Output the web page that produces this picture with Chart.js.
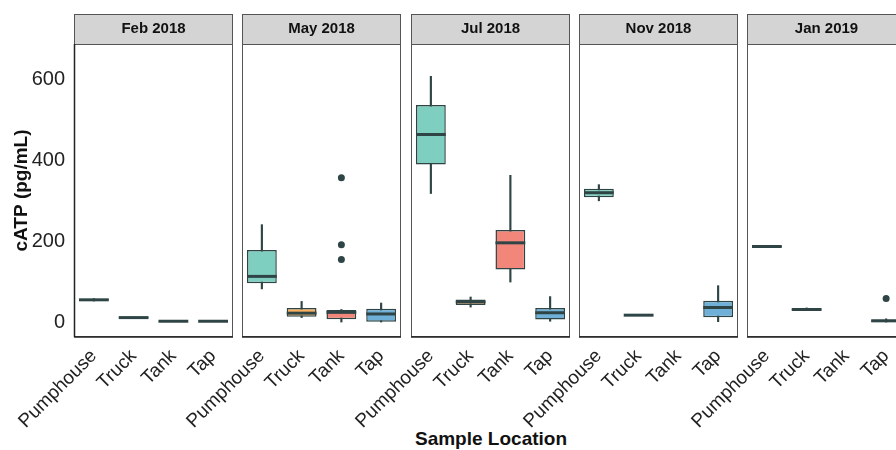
<!DOCTYPE html>
<html lang="en">
<head>
  <meta charset="UTF-8" />
  <title>cATP by Sample Location</title>
  <script src="https://cdn.jsdelivr.net/npm/chart.js"></script>
  <style>
    html, body { margin: 0; padding: 0; background: #fff; overflow: hidden; }
    #wrap { position: relative; width: 896px; height: 450px; overflow: hidden; font-family: "Liberation Sans", Arial, sans-serif; }
    #wrap canvas { position: absolute; top: 0; }
    #xtitle { position: absolute; top: 429px; left: 391px; width: 200px; text-align: center; font-size: 19px; line-height: 19px; font-weight: bold; color: #111; }
  </style>
</head>
<body>
  <div id="wrap">
    <div id="xtitle">Sample Location</div>
  </div>

  <script>
    const panels = ['Feb 2018', 'May 2018', 'Jul 2018', 'Nov 2018', 'Jan 2019'];
    const locations = ['Pumphouse', 'Truck', 'Tank', 'Tap'];
    const fills = ['#7fcfc0', '#fbb060', '#f3867b', '#6fb0d8'];

    // per panel, per location (Pumphouse, Truck, Tank, Tap)
    const whiskerLow = [[52, 10, 1, 1], [82, 11, 0, 0], [318, 37, 99, 2], [300, 16, null, 1], [186, 29, null, 0]];
    const q1 =         [[54, 10, 1, 1], [96, 13, 7, 1], [390, 42, 130, 6], [309, 16, null, 12], [186, 29, null, 0]];
    const median =     [[55, 11, 2, 2], [113, 22, 24, 20], [464, 50, 196, 23], [320, 17, null, 36], [187, 31, null, 3]];
    const q3 =         [[57, 12, 3, 3], [178, 35, 30, 33], [537, 56, 228, 35], [330, 18, null, 53], [188, 33, null, 6]];
    const whiskerHigh = [[58, 12, 3, 3], [241, 51, 31, 47], [608, 62, 363, 63], [340, 18, null, 90], [188, 35, null, 8]];
    const outliers = [[], [['Tank', 357], ['Tank', 191], ['Tank', 155]], [], [], [['Tap', 58]]];

    const yTicks = [0, 200, 400, 600];
    const yMin = -37, yMax = 688;

    const ink = '#2f4545';
    const panelLeft = [74, 242, 411, 579, 747];
    const panelWidth = 159;

    const panelFrame = {
      id: 'panelFrame',
      beforeDraw(chart) {
        const { ctx, chartArea: a } = chart;
        ctx.save();
        ctx.fillStyle = '#d4d4d4';
        ctx.fillRect(a.left, 14, a.right - a.left, a.top - 14);
        ctx.strokeStyle = '#555';
        ctx.lineWidth = 1;
        ctx.strokeRect(a.left + 0.5, 14.5, a.right - a.left - 1, a.top - 14);
        ctx.restore();
      },
      afterDraw(chart) {
        const { ctx, chartArea: a } = chart;
        ctx.save();
        ctx.strokeStyle = '#555';
        ctx.lineWidth = 1;
        ctx.strokeRect(a.left + 0.5, a.top + 0.5, a.right - a.left - 1, a.bottom - a.top - 1);
        ctx.strokeStyle = '#222';
        ctx.lineWidth = 1.5;
        ctx.beginPath();
        ctx.moveTo(a.left, a.bottom);
        ctx.lineTo(a.right, a.bottom);
        if (chart.$first) {
          ctx.moveTo(a.left + 0.5, a.top);
          ctx.lineTo(a.left + 0.5, a.bottom);
        }
        ctx.stroke();
        ctx.restore();
      }
    };

    function makePanel(p) {
      const first = p === 0;
      // the y axis doubles as a left spacer so rotated labels fit inside the canvas
      const axisWidth = first ? 74 : 90;
      const canvas = document.createElement('canvas');
      const w = axisWidth + panelWidth + 20;
      canvas.width = w;
      canvas.height = 450;
      canvas.style.width = w + 'px';
      canvas.style.height = '450px';
      canvas.style.left = (panelLeft[p] - axisWidth) + 'px';
      document.getElementById('wrap').appendChild(canvas);

      const chart = new Chart(canvas.getContext('2d'), {
        type: 'bar',
        data: {
          labels: locations,
          datasets: [
            {
              label: 'whisker',
              data: locations.map((_, i) => whiskerLow[p][i] == null ? null : [whiskerLow[p][i], whiskerHigh[p][i]]),
              backgroundColor: ink,
              barThickness: 1.5,
              grouped: false,
              order: 4
            },
            {
              label: 'box',
              data: locations.map((_, i) => q1[p][i] == null ? null : [q1[p][i], q3[p][i]]),
              backgroundColor: fills,
              borderColor: ink,
              borderWidth: 1.5,
              borderSkipped: false,
              barPercentage: 0.75,
              categoryPercentage: 1,
              grouped: false,
              order: 3
            },
            {
              type: 'line',
              label: 'median',
              data: median[p],
              showLine: false,
              pointStyle: 'line',
              pointRadius: 14.9,
              pointBorderWidth: 3,
              pointBorderColor: ink,
              order: 2
            },
            {
              type: 'line',
              label: 'outlier',
              data: outliers[p].map(o => ({ x: o[0], y: o[1] })),
              showLine: false,
              pointRadius: 3.5,
              pointBackgroundColor: ink,
              pointBorderColor: ink,
              pointBorderWidth: 0,
              order: 1
            }
          ]
        },
        options: {
          responsive: false,
          animation: false,
          events: [],
          layout: { padding: { left: 0, right: 20, top: 14, bottom: 0 } },
          plugins: {
            legend: { display: false },
            tooltip: { enabled: false },
            title: {
              display: true,
              text: panels[p],
              fullSize: false,
              color: '#111',
              font: { family: 'Liberation Sans', size: 15, weight: 'bold' },
              padding: { top: 6, bottom: 6 }
            }
          },
          scales: {
            x: {
              grid: { display: false },
              border: { display: false },
              ticks: {
                autoSkip: false,
                minRotation: 45,
                maxRotation: 45,
                padding: 0,
                color: '#222',
                font: { family: 'Liberation Sans', size: 19 }
              },
              afterFit(axis) { axis.height = 113; }
            },
            y: {
              min: yMin,
              max: yMax,
              grid: { display: false, tickLength: 0 },
              border: { display: false },
              afterBuildTicks(axis) { axis.ticks = yTicks.map(v => ({ value: v })); },
              ticks: {
                display: first,
                padding: 9,
                color: '#222',
                font: { family: 'Liberation Sans', size: 20 }
              },
              title: {
                display: first,
                text: 'cATP (pg/mL)',
                color: '#111',
                padding: { top: 10, bottom: 0 },
                font: { family: 'Liberation Sans', size: 19, weight: 'bold' }
              },
              afterFit(axis) { axis.width = axisWidth; }
            }
          }
        },
        plugins: [panelFrame]
      });
      chart.$first = first;
      chart.draw();
      return chart;
    }

    panels.forEach((_, p) => makePanel(p));
  </script>
</body>
</html>
